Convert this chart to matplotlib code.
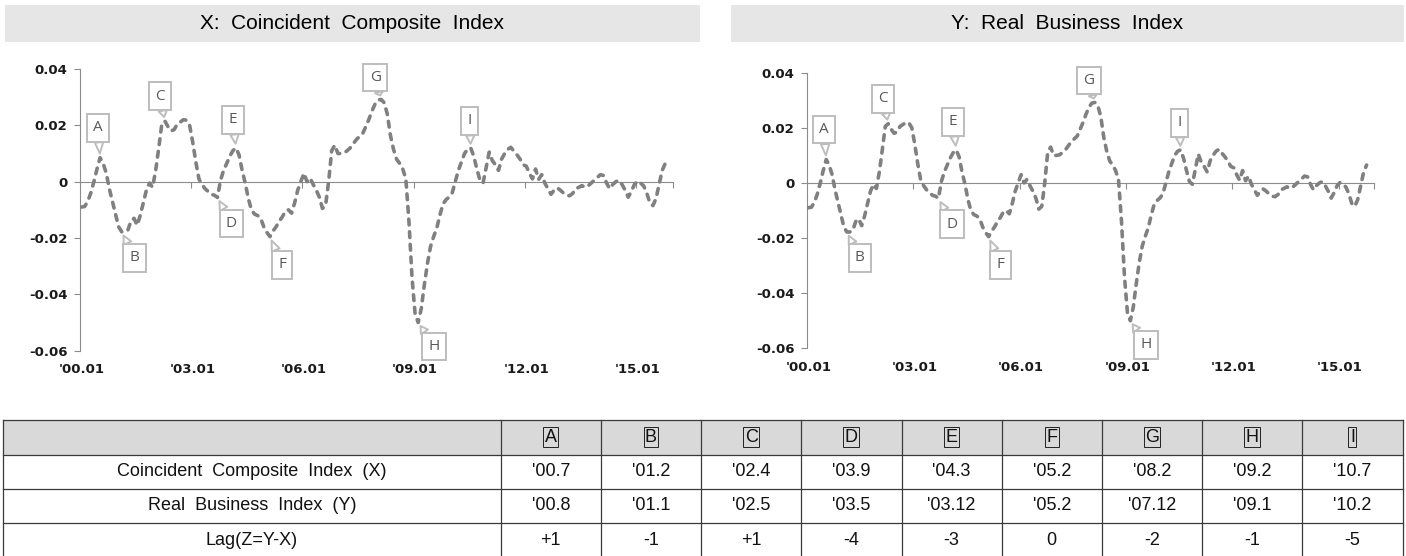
import matplotlib
matplotlib.use("Agg")
import matplotlib.pyplot as plt
from matplotlib import font_manager
from matplotlib.patches import Rectangle

# monthly index values, 2000.01 - 2015.10
coincident = [
    -0.0090, -0.0088, -0.0070, -0.0040, 0.0000, 0.0045, 0.0085, 0.0065, 0.0030, -0.0025,
    -0.0070, -0.0115, -0.0160, -0.0178, -0.0178, -0.0172, -0.0140, -0.0130, -0.0155, -0.0120,
    -0.0075, -0.0030, -0.0005, -0.0020, 0.0040, 0.0120, 0.0205, 0.0215, 0.0195, 0.0180,
    0.0185, 0.0205, 0.0212, 0.0220, 0.0218, 0.0200, 0.0140, 0.0070, 0.0010, -0.0010,
    -0.0025, -0.0035, -0.0045, -0.0048, -0.0056, 0.0005, 0.0040, 0.0065, 0.0090, 0.0110,
    0.0120, 0.0095, 0.0040, -0.0005, -0.0060, -0.0100, -0.0115, -0.0120, -0.0130, -0.0160,
    -0.0180, -0.0195, -0.0175, -0.0160, -0.0140, -0.0125, -0.0105, -0.0100, -0.0112, -0.0075,
    -0.0030, 0.0000, 0.0030, 0.0000, 0.0013, -0.0010, -0.0030, -0.0055, -0.0095, -0.0085,
    0.0000, 0.0110, 0.0130, 0.0100, 0.0100, 0.0102, 0.0110, 0.0120, 0.0135, 0.0150,
    0.0160, 0.0170, 0.0195, 0.0220, 0.0250, 0.0275, 0.0290, 0.0292, 0.0280, 0.0240,
    0.0165, 0.0115, 0.0080, 0.0065, 0.0045, 0.0010, -0.0140, -0.0340, -0.0470, -0.0500,
    -0.0450, -0.0365, -0.0290, -0.0230, -0.0195, -0.0165, -0.0120, -0.0080, -0.0064, -0.0055,
    -0.0040, 0.0000, 0.0040, 0.0070, 0.0100, 0.0115, 0.0120, 0.0090, 0.0045, 0.0005,
    -0.0005, 0.0050, 0.0105, 0.0075, 0.0060, 0.0040, 0.0080, 0.0100, 0.0115, 0.0122,
    0.0108, 0.0095, 0.0080, 0.0060, 0.0055, 0.0030, 0.0010, 0.0045, 0.0008, 0.0025,
    -0.0005, -0.0025, -0.0045, -0.0030, -0.0022, -0.0030, -0.0040, -0.0048, -0.0050, -0.0042,
    -0.0025, -0.0020, -0.0014, -0.0020, -0.0015, -0.0005, 0.0005, 0.0015, 0.0025, 0.0022,
    -0.0005, -0.0025, -0.0010, 0.0000, 0.0005, -0.0010, -0.0030, -0.0055, -0.0035, -0.0010,
    0.0002, -0.0005, -0.0015, -0.0040, -0.0075, -0.0085, -0.0060, -0.0010, 0.0040, 0.0065,
]
# the Y panel shows the same series
real_business = list(coincident)

n_months = 192  # category axis runs 2000.01 - 2015.12
tick_months = [0, 36, 72, 108, 144, 180]
tick_labels = ["'00.01", "'03.01", "'06.01", "'09.01", "'12.01", "'15.01"]
y_ticks = [-0.06, -0.04, -0.02, 0, 0.02, 0.04]
y_tick_labels = ["-0.06", "-0.04", "-0.02", "0", "0.02", "0.04"]

# turning points: letter, month index, callout offset (px)
callout_letters = ["A", "B", "C", "D", "E", "F", "G", "H", "I"]
callout_months = [6, 13, 27, 44, 50, 61, 97, 109, 126]
callout_offsets = [(-2, 30), (13, -26), (-5, 25), (14, -26), (-3, 28),
                   (12, -28), (-6, 22), (16, -24), (-1, 27)]

panel_titles = ["X:  Coincident  Composite  Index", "Y:  Real  Business  Index"]

table_header = ["A", "B", "C", "D", "E", "F", "G", "H", "I"]
row_labels = ["Coincident  Composite  Index  (X)", "Real  Business  Index  (Y)", "Lag(Z=Y-X)"]
row_x = ["'00.7", "'01.2", "'02.4", "'03.9", "'04.3", "'05.2", "'08.2", "'09.2", "'10.7"]
row_y = ["'00.8", "'01.1", "'02.5", "'03.5", "'03.12", "'05.2", "'07.12", "'09.1", "'10.2"]
row_lag = ["+1", "-1", "+1", "-4", "-3", "0", "-2", "-1", "-5"]


def pick_font(names):
    have = {f.name for f in font_manager.fontManager.ttflist}
    for name in names:
        if name in have:
            return name
    return "DejaVu Sans"


sans = pick_font(["Liberation Sans", "Arial", "DejaVu Sans"])
narrow = pick_font(["Liberation Sans Narrow", "Liberation Sans", "DejaVu Sans"])
label_font = pick_font(["Open Sans", "Noto Sans", "DejaVu Sans"])

W, H = 1406, 556
fig = plt.figure(figsize=(W / 100, H / 100), dpi=100)

# overlay in pixel coordinates for header bars and the table
ov = fig.add_axes([0, 0, 1, 1])
ov.set_xlim(0, W)
ov.set_ylim(H, 0)
ov.axis("off")

header_boxes = [(5, 700), (731, 1404)]
for (x0, x1), title in zip(header_boxes, panel_titles):
    ov.add_patch(Rectangle((x0, 5), x1 - x0, 37, fc="#e6e6e6", ec="none"))
    ov.text((x0 + x1) / 2, 23.5, title, ha="center", va="center",
            fontsize=15, family=sans, color="#000000")


def draw_panel(rect, values):
    ax = fig.add_axes(rect)
    months = list(range(len(values)))
    ax.plot(months, values, color="#808080", lw=2.6, ls=(0, (1.6, 1.9)),
            dash_capstyle="round", zorder=3)
    ax.set_xlim(-0.5, n_months - 0.5)
    ax.set_ylim(-0.06, 0.04)

    for side in ["top", "right"]:
        ax.spines[side].set_visible(False)
    ax.spines["left"].set_color("#8c8c8c")
    ax.spines["bottom"].set_color("#8c8c8c")
    ax.spines["bottom"].set_position(("data", 0))
    ax.set_yticks(y_ticks)
    ax.set_yticklabels(y_tick_labels, fontsize=9.5, fontweight="bold", family="DejaVu Sans")
    ax.tick_params(axis="y", colors="#8c8c8c", labelcolor="#1a1a1a", length=4, pad=5)
    ax.set_xticks([m - 0.5 for m in tick_months[1:]] + [n_months - 0.5])
    ax.set_xticklabels([])
    ax.tick_params(axis="x", colors="#8c8c8c", length=4, direction="out")

    sec = ax.secondary_xaxis("bottom")
    sec.set_xticks(tick_months)
    sec.set_xticklabels(tick_labels, fontsize=9.5, fontweight="bold", family="DejaVu Sans",
                        color="#1a1a1a")
    sec.tick_params(length=0, pad=9)
    sec.spines["bottom"].set_visible(False)

    for letter, m, (dx, dy) in zip(callout_letters, callout_months, callout_offsets):
        ax.annotate(letter, xy=(m, values[m]), xytext=(dx * 0.72, dy * 0.72),
                    textcoords="offset points", ha="center", va="center",
                    fontsize=11, family=label_font, color="#595959", zorder=5,
                    bbox=dict(boxstyle="square,pad=0.42", fc="white", ec="#bdbdbd", lw=1.4),
                    arrowprops=dict(arrowstyle="wedge,tail_width=0.55", fc="white",
                                    ec="#bdbdbd", lw=1.4, shrinkA=0, shrinkB=3))
    return ax


draw_panel([80 / W, 1 - 350.7 / H, 593 / W, 281.7 / H], coincident)
draw_panel([807 / W, 1 - 348.3 / H, 567 / W, 275.6 / H], real_business)

# table
col_edges = [3, 500.7] + [500.7 + 100.2 * (k + 1) for k in range(9)]
row_edges = [420, 454.5, 489, 523, 557.5]
ov.add_patch(Rectangle((col_edges[0], row_edges[0]), col_edges[-1] - col_edges[0],
                       row_edges[1] - row_edges[0], fc="#d9d9d9", ec="none"))
for y in row_edges:
    ov.plot([col_edges[0], col_edges[-1]], [y, y], color="#3a3a3a", lw=0.9)
for x in col_edges:
    ov.plot([x, x], [row_edges[0], row_edges[-1]], color="#3a3a3a", lw=0.9)

cell_rows = [table_header, row_x, row_y, row_lag]
first_col = [""] + row_labels
for r, cells in enumerate(cell_rows):
    yc = (row_edges[r] + row_edges[r + 1]) / 2
    ov.text((col_edges[0] + col_edges[1]) / 2, yc, first_col[r], ha="center",
            va="center", fontsize=13, family=narrow, color="#111111")
    for c, txt in enumerate(cells):
        xc = (col_edges[c + 1] + col_edges[c + 2]) / 2
        if r == 0:
            ov.text(xc, yc, txt, ha="center", va="center", fontsize=13, family=narrow,
                    color="#111111",
                    bbox=dict(boxstyle="square,pad=0.08", fc="none", ec="#222222", lw=0.7))
        else:
            ov.text(xc, yc, txt, ha="center", va="center", fontsize=13, family=narrow,
                    color="#111111")

fig.savefig("out.png", dpi=100)
